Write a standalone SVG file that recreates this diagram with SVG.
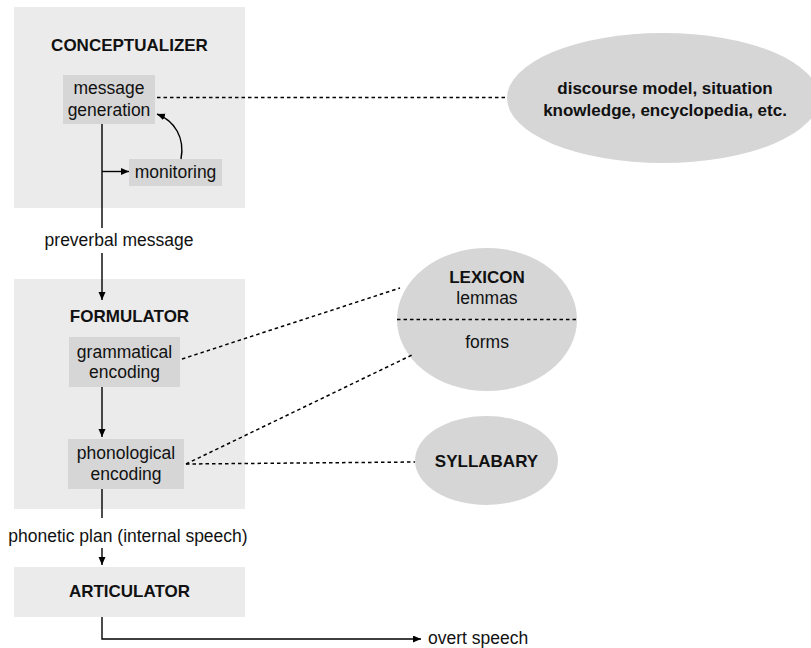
<svg xmlns="http://www.w3.org/2000/svg" width="811" height="648" viewBox="0 0 811 648">
<defs>
<style>
.stage{fill:#ebebeb}
.proc{fill:#d6d6d6}
.store{fill:#d6d6d6}
text{font-family:"Liberation Sans",Arial,Helvetica,sans-serif;fill:#111}
.t{font-size:17.5px;text-anchor:middle}
.b{font-size:17px;font-weight:bold;text-anchor:middle}
.ln{stroke:#000;stroke-width:1.4;fill:none}
.dash{stroke:#000;stroke-width:1.5;fill:none;stroke-dasharray:3.5 3}
</style>
<marker id="ah" markerUnits="userSpaceOnUse" markerWidth="9" markerHeight="8" refX="8" refY="3.5" orient="auto">
<path d="M0,0 L8,3.5 L0,7 z" fill="#000"/>
</marker>
</defs>
<rect width="811" height="648" fill="#fff"/>

<g id="conceptualizer">
<rect class="stage" x="14" y="7" width="231" height="201"/>
<text class="b" x="129.5" y="51">CONCEPTUALIZER</text>
</g>
<g id="message-generation">
<rect class="proc" x="63" y="75" width="92" height="49"/>
<text class="t" x="109" y="94">message</text>
<text class="t" x="109" y="116">generation</text>
</g>
<g id="monitoring">
<rect class="proc" x="129" y="159" width="93" height="27"/>
<text class="t" x="175.5" y="178">monitoring</text>
</g>

<g id="formulator">
<rect class="stage" x="14" y="279" width="231" height="230"/>
<text class="b" x="129.5" y="322">FORMULATOR</text>
</g>
<g id="grammatical-encoding">
<rect class="proc" x="69" y="337" width="111" height="50"/>
<text class="t" x="124.5" y="358">grammatical</text>
<text class="t" x="124.5" y="378">encoding</text>
</g>
<g id="phonological-encoding">
<rect class="proc" x="68" y="439" width="116" height="50"/>
<text class="t" x="126" y="459">phonological</text>
<text class="t" x="126" y="480">encoding</text>
</g>

<g id="articulator">
<rect class="stage" x="14" y="567" width="231" height="50"/>
<text class="b" x="129.5" y="597">ARTICULATOR</text>
</g>

<g id="discourse">
<ellipse class="store" cx="663" cy="98" rx="156" ry="65"/>
<text class="b" x="665" y="94">discourse model, situation</text>
<text class="b" x="665" y="116">knowledge, encyclopedia, etc.</text>
</g>

<g id="lexicon">
<ellipse class="store" cx="487" cy="319.5" rx="90" ry="71.5"/>
<text class="b" x="487" y="283">LEXICON</text>
<text class="t" x="487" y="304">lemmas</text>
<text class="t" x="487" y="348">forms</text>
<line class="dash" x1="397" y1="319.5" x2="577" y2="319.5"/>
</g>

<g id="syllabary">
<ellipse class="store" cx="486.5" cy="460.5" rx="71.5" ry="44.5"/>
<text class="b" x="486.5" y="467">SYLLABARY</text>
</g>

<g id="labels">
<text class="t" x="119" y="246">preverbal message</text>
<text class="t" x="128" y="542">phonetic plan (internal speech)</text>
<text class="t" x="428" y="644" style="text-anchor:start">overt speech</text>
</g>

<g id="connectors">
<line class="ln" x1="102" y1="124" x2="102" y2="228"/>
<line class="ln" x1="102" y1="171.5" x2="129" y2="171.5" marker-end="url(#ah)"/>
<path class="ln" d="M181,159 C185,138 175,121 157,114" marker-end="url(#ah)"/>
<line class="ln" x1="102" y1="253" x2="102" y2="300" marker-end="url(#ah)"/>
<line class="ln" x1="102" y1="387" x2="102" y2="437" marker-end="url(#ah)"/>
<line class="ln" x1="102" y1="489" x2="102" y2="518"/>
<line class="ln" x1="102" y1="548" x2="102" y2="565" marker-end="url(#ah)"/>
<polyline class="ln" points="102,617 102,639 421,639" marker-end="url(#ah)"/>
<line class="dash" x1="157" y1="97.5" x2="507" y2="97.5"/>
<line class="dash" x1="182" y1="359" x2="400" y2="288"/>
<line class="dash" x1="186" y1="464" x2="412" y2="355"/>
<line class="dash" x1="186" y1="464" x2="415" y2="462"/>
</g>
</svg>
